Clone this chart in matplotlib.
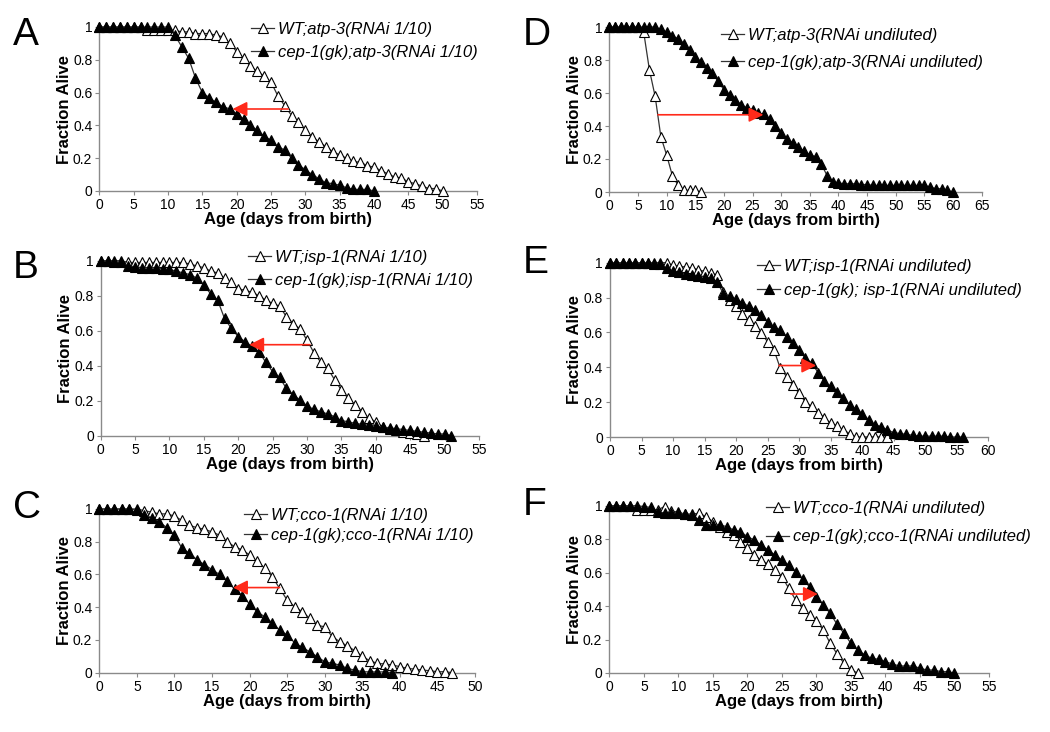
import numpy as np
import matplotlib
matplotlib.use("Agg")
import matplotlib.pyplot as plt
from matplotlib.ticker import FuncFormatter

plt.rcParams['font.family'] = ['Liberation Sans', 'DejaVu Sans']

# ---- data: fraction alive per day ----
a_wt = [1.0] * 7 + [0.98] * 5 + [
    0.97, 0.97, 0.96, 0.96, 0.96, 0.95, 0.94, 0.90, 0.85, 0.81, 0.76, 0.73, 0.70,
    0.665, 0.58, 0.52, 0.46, 0.42, 0.37, 0.33, 0.30, 0.27, 0.24, 0.22, 0.20, 0.18,
    0.175, 0.155, 0.145, 0.125, 0.105, 0.085, 0.08, 0.055, 0.045, 0.03, 0.015,
    0.015, 0.0]
a_cep = [1.0] * 11 + [
    0.95, 0.88, 0.81, 0.69, 0.60, 0.57, 0.54, 0.515, 0.50, 0.47, 0.44, 0.40, 0.37,
    0.335, 0.31, 0.27, 0.25, 0.20, 0.16, 0.13, 0.10, 0.075, 0.05, 0.045, 0.035,
    0.02, 0.01, 0.01, 0.01, 0.0]

b_wt = [1.0] * 4 + [0.99] * 9 + [
    0.98, 0.97, 0.96, 0.94, 0.93, 0.90, 0.876, 0.84, 0.83, 0.82, 0.80, 0.775,
    0.756, 0.74, 0.68, 0.64, 0.61, 0.546, 0.474, 0.42, 0.385, 0.32, 0.26, 0.213,
    0.175, 0.137, 0.10, 0.08, 0.05, 0.04, 0.03, 0.02, 0.015, 0.01, 0.0]
b_cep = [1.0, 1.0, 0.99, 0.99, 0.97, 0.965, 0.96, 0.96, 0.96, 0.955, 0.95, 0.94,
         0.93, 0.92, 0.90, 0.86, 0.81, 0.775, 0.67, 0.613, 0.566, 0.537, 0.51,
         0.48, 0.42, 0.366, 0.333, 0.27, 0.232, 0.204, 0.17, 0.15, 0.137, 0.124,
         0.109, 0.086, 0.08, 0.07, 0.065, 0.06, 0.055, 0.05, 0.045, 0.04, 0.035,
         0.03, 0.025, 0.02, 0.015, 0.01, 0.01, 0.0]

c_wt = [1.0] * 6 + [
    0.99, 0.98, 0.97, 0.97, 0.957, 0.93, 0.90, 0.886, 0.876, 0.86, 0.84, 0.80,
    0.77, 0.75, 0.72, 0.68, 0.64, 0.587, 0.515, 0.444, 0.403, 0.373, 0.332, 0.29,
    0.28, 0.22, 0.19, 0.163, 0.135, 0.10, 0.073, 0.057, 0.053, 0.047, 0.037,
    0.026, 0.022, 0.016, 0.012, 0.006, 0.006, 0.0]
c_cep = [1.0] * 5 + [
    0.995, 0.963, 0.947, 0.92, 0.886, 0.84, 0.76, 0.73, 0.69, 0.66, 0.63, 0.60,
    0.56, 0.51, 0.47, 0.42, 0.373, 0.342, 0.305, 0.26, 0.23, 0.183, 0.155, 0.128,
    0.098, 0.067, 0.057, 0.047, 0.026, 0.016, 0.006, 0.005, 0.005, 0.005, 0.0]

d_wt = [1.0] * 6 + [0.97, 0.74, 0.58, 0.335, 0.225, 0.10, 0.04, 0.01, 0.01,
                    0.01, 0.0]
d_cep = [1.0] * 9 + [
    0.985, 0.97, 0.945, 0.93, 0.90, 0.86, 0.82, 0.79, 0.75, 0.72, 0.67, 0.62,
    0.59, 0.56, 0.53, 0.51, 0.50, 0.48, 0.47, 0.44, 0.40, 0.36, 0.32, 0.30, 0.27,
    0.25, 0.225, 0.215, 0.17, 0.10, 0.06, 0.055, 0.05, 0.05, 0.05, 0.045, 0.045,
    0.04, 0.04, 0.04, 0.04, 0.04, 0.04, 0.04, 0.04, 0.04, 0.04, 0.03, 0.02, 0.02,
    0.01, 0.0]

e_wt = [1.0] * 10 + [
    0.985, 0.98, 0.975, 0.97, 0.96, 0.95, 0.94, 0.93, 0.834, 0.786, 0.75, 0.706,
    0.67, 0.637, 0.595, 0.546, 0.50, 0.395, 0.347, 0.296, 0.25, 0.20, 0.176, 0.14,
    0.11, 0.08, 0.065, 0.04, 0.02, 0.0, 0.0, 0.0, 0.0, 0.0, 0.0]
e_cep = [1.0] * 7 + [0.995, 0.99, 0.97] + [
    0.95, 0.945, 0.935, 0.93, 0.925, 0.92, 0.91, 0.89, 0.82, 0.81, 0.79, 0.77,
    0.75, 0.73, 0.70, 0.66, 0.63, 0.615, 0.576, 0.538, 0.50, 0.452, 0.424, 0.37,
    0.32, 0.29, 0.26, 0.223, 0.185, 0.16, 0.134, 0.10, 0.07, 0.06, 0.04, 0.025,
    0.02, 0.015, 0.01, 0.005, 0.005, 0.005, 0.005, 0.005, 0.0, 0.0, 0.0]

f_wt = [1.0] * 4 + [
    0.975, 0.975, 0.975, 0.975, 0.995, 0.97, 0.96, 0.95, 0.95, 0.955, 0.935,
    0.905, 0.875, 0.84, 0.825, 0.785, 0.745, 0.705, 0.675, 0.65, 0.615, 0.576,
    0.506, 0.436, 0.386, 0.347, 0.31, 0.257, 0.177, 0.114, 0.058, 0.018, 0.0]
f_cep = [1.0] * 5 + [
    0.995, 0.99, 0.965, 0.955, 0.955, 0.955, 0.95, 0.945, 0.915, 0.885, 0.885,
    0.885, 0.875, 0.855, 0.845, 0.815, 0.795, 0.765, 0.735, 0.705, 0.675, 0.645,
    0.605, 0.56, 0.516, 0.456, 0.406, 0.357, 0.29, 0.237, 0.177, 0.137, 0.108,
    0.088, 0.082, 0.068, 0.054, 0.042, 0.042, 0.042, 0.028, 0.018, 0.018, 0.008,
    0.008, 0.0]

wt_labels = ["WT;atp-3(RNAi 1/10)", "WT;isp-1(RNAi 1/10)", "WT;cco-1(RNAi 1/10)",
             "WT;atp-3(RNAi undiluted)", "WT;isp-1(RNAi undiluted)",
             "WT;cco-1(RNAi undiluted)"]
cep_labels = ["cep-1(gk);atp-3(RNAi 1/10)", "cep-1(gk);isp-1(RNAi 1/10)",
              "cep-1(gk);cco-1(RNAi 1/10)", "cep-1(gk);atp-3(RNAi undiluted)",
              "cep-1(gk); isp-1(RNAi undiluted)", "cep-1(gk);cco-1(RNAi undiluted)"]
# median-shift arrows: (x_from, x_to, y)
arrows = [(27.5, 19.4, 0.50), (30.4, 21.6, 0.52), (24.0, 17.8, 0.52),
          (8.5, 26.9, 0.468), (26.8, 32.7, 0.41), (26.3, 30.2, 0.472)]
xmax = [55, 55, 50, 65, 60, 55]
letters = ["A", "B", "C", "D", "E", "F"]

W, H = 1050, 732
# layout in pixels: axes (left, right, top, bottom), letter (x, y), legend (x, y), labelspacing
layout = [
    ((99.3, 477, 27, 191), (13, 35), (251, 22), 0.45),
    ((100.7, 479, 260.7, 435.7), (13, 268), (248, 250), 0.45),
    ((99.3, 475, 509, 672.7), (13, 508), (244, 508), 0.3),
    ((609.3, 981.7, 27, 192), (523, 35), (721, 28), 0.7),
    ((610, 988.3, 262.7, 437), (523, 263), (757, 259), 0.55),
    ((609.3, 989, 505.7, 673), (523, 505), (766, 501), 0.8),
]
series = [(a_wt, a_cep), (b_wt, b_cep), (c_wt, c_cep),
          (d_wt, d_cep), (e_wt, e_cep), (f_wt, f_cep)]

fig = plt.figure(figsize=(W / 100, H / 100), dpi=100)
for i in range(6):
    (l, r, t, b), (lx, ly), (gx, gy), lsp = layout[i]
    ax = fig.add_axes([l / W, 1 - b / H, (r - l) / W, (b - t) / H])
    wt, cep = series[i]
    h1, = ax.plot(range(len(wt)), wt, "-^", color="#333333", lw=0.9, ms=7.5,
                  mfc="white", mec="black", mew=0.8, clip_on=False, zorder=3)
    h2, = ax.plot(range(len(cep)), cep, "-^", color="#333333", lw=0.9, ms=7.5,
                  mfc="black", mec="black", mew=0.8, clip_on=False, zorder=4)
    x0, x1, ya = arrows[i]
    ax.annotate("", xy=(x1, ya), xytext=(x0, ya),
                arrowprops=dict(arrowstyle="-|>", color="#ff2a1a", lw=1.2,
                                mutation_scale=22, shrinkA=0, shrinkB=0),
                zorder=5)
    ax.set_xlim(0, xmax[i]); ax.set_ylim(0, 1)
    ax.set_xticks(np.arange(0, xmax[i] + 1, 5))
    ax.set_yticks([0, 0.2, 0.4, 0.6, 0.8, 1.0])
    ax.yaxis.set_major_formatter(FuncFormatter(lambda v, p: "%g" % v))
    for s in ("top", "right"):
        ax.spines[s].set_visible(False)
    for s in ("left", "bottom"):
        ax.spines[s].set_color("#8a8a8a"); ax.spines[s].set_linewidth(1.0)
    ax.tick_params(direction="out", length=3, width=0.8, color="#8a8a8a",
                   labelsize=10, pad=2)
    ax.set_xlabel("Age (days from birth)", fontsize=12, fontweight="bold", labelpad=0)
    ax.set_ylabel("Fraction Alive", fontsize=12, fontweight="bold", labelpad=1)
    fig.text(lx / W, 1 - ly / H, letters[i], fontsize=28, ha="left", va="center")
    ax.legend([h1, h2], [wt_labels[i], cep_labels[i]], loc="upper left",
              bbox_to_anchor=(gx / W, 1 - gy / H), bbox_transform=fig.transFigure,
              frameon=False, borderpad=0, borderaxespad=0, handlelength=1.4,
              handletextpad=0.2, labelspacing=lsp, markerscale=1.0,
              prop=dict(size=12, style="italic"))

fig.savefig("out.png", dpi=100)
